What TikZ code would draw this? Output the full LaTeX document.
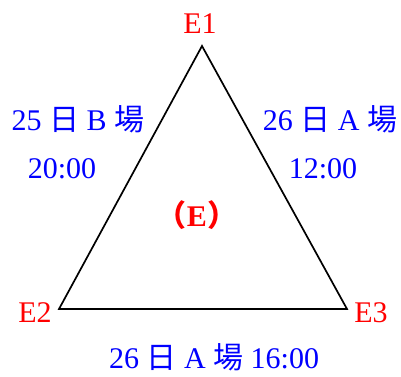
\documentclass[tikz,border=0pt]{standalone}
\usepackage{fontspec}
\setmainfont{Liberation Serif}
\newfontfamily\cjk{Noto Sans CJK TC}
\begin{document}
\begin{tikzpicture}[x=1pt,y=-1pt,
  vlab/.style={text=red,font=\fontsize{30}{30}\selectfont,anchor=base,inner sep=0pt},
  tlab/.style={text=blue,font=\fontsize{30}{30}\selectfont,anchor=base,inner sep=0pt},
  edge/.style={line width=1.7pt,line join=miter}]
\useasboundingbox (0,0) rectangle (401,376);
\coordinate (v1) at (202,46);
\coordinate (v2) at (59,309);
\coordinate (v3) at (347,309);
\draw[edge] (v1) -- (v2) -- (v3) -- cycle;
\node[vlab] (e1) at (200,33) {E1};
\node[vlab] (e2) at (35,322) {E2};
\node[vlab] (e3) at (371,322) {E3};
\node[vlab,font=\fontsize{30}{30}\selectfont\bfseries] (ec) at (197,226) {{\cjk （}E{\cjk ）}};
\node[tlab] (l1) at (78,130) {25 {\cjk 日} B {\cjk 場}};
\node[tlab] (l2) at (62,178) {20:00};
\node[tlab] (r1) at (330,130) {26 {\cjk 日} A {\cjk 場}};
\node[tlab] (r2) at (323,178) {12:00};
\node[tlab] (b1) at (214,368) {26 {\cjk 日} A {\cjk 場} 16:00};
\end{tikzpicture}
\end{document}
